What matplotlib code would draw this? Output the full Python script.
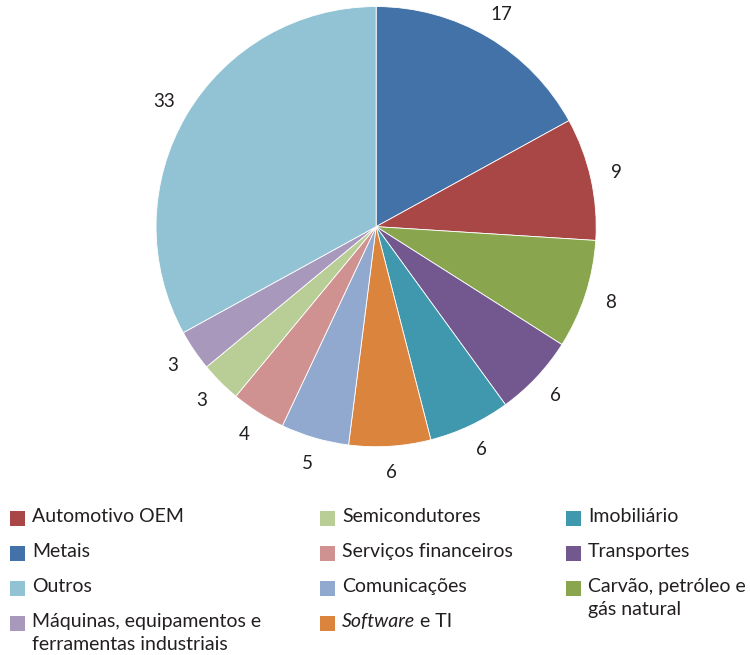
import matplotlib
matplotlib.use('Agg')
import matplotlib.pyplot as plt
from matplotlib.patches import Rectangle

plt.rcParams['font.family'] = ['Lato', 'DejaVu Sans']

# fatias no sentido horário a partir do topo
sectors = ['Metais', 'Automotivo OEM', 'Carvão, petróleo e\ngás natural', 'Transportes',
           'Imobiliário', 'Software e TI', 'Comunicações', 'Serviços financeiros',
           'Semicondutores', 'Máquinas, equipamentos e\nferramentas industriais', 'Outros']
values = [17, 9, 8, 6, 6, 6, 5, 4, 3, 3, 33]
colors = ['#4272A8', '#A84746', '#89A64E', '#72588F', '#4098AE', '#DB843E',
          '#92A9CF', '#CF9291', '#B9CE96', '#A898BC', '#92C3D4']

# ordem da legenda (por colunas)
legend_cols = [
    ['Automotivo OEM', 'Metais', 'Outros', 'Máquinas, equipamentos e\nferramentas industriais'],
    ['Semicondutores', 'Serviços financeiros', 'Comunicações', 'Software e TI'],
    ['Imobiliário', 'Transportes', 'Carvão, petróleo e\ngás natural'],
]

fig = plt.figure(figsize=(7.5, 6.55), dpi=100)
ax = fig.add_axes([0.208, 0.318, 0.587, 0.672])

wedges, texts = ax.pie(values, colors=colors, startangle=90, counterclock=False,
                       labels=[str(v) for v in values], labeldistance=1.12,
                       wedgeprops=dict(edgecolor='white', linewidth=0.6),
                       textprops=dict(fontsize=13.5, color='#231F20'))
for t in texts:
    t.set_ha('center')
ax.set_aspect('equal')
ax.set_xlim(-1, 1)
ax.set_ylim(-1, 1)

W, H = 750, 655
col_x = [10, 320, 566]
row_y = [518, 553, 588, 623]
fs = 14
color_of = dict(zip(sectors, colors))
for ci, col in enumerate(legend_cols):
    for ri, name in enumerate(col):
        x, y = col_x[ci], row_y[ri]
        fig.add_artist(Rectangle((x / W, 1 - (y + 7.5) / H), 15 / W, 15 / H,
                                 transform=fig.transFigure, facecolor=color_of[name],
                                 edgecolor='none'))
        tx, ty = (x + 22) / W, 1 - (y - 10) / H
        if name.startswith('Software'):
            t1 = fig.text(tx, ty, 'Software', fontsize=fs, style='italic',
                          color='#231F20', va='top', ha='left')
            ax.annotate(' e TI', xy=(1, 1), xycoords=t1, va='top', ha='left',
                        fontsize=fs, color='#231F20', annotation_clip=False)
        else:
            fig.text(tx, ty, name, fontsize=fs, color='#231F20', va='top',
                     ha='left', linespacing=1.4)

fig.savefig('out.png', dpi=100)
